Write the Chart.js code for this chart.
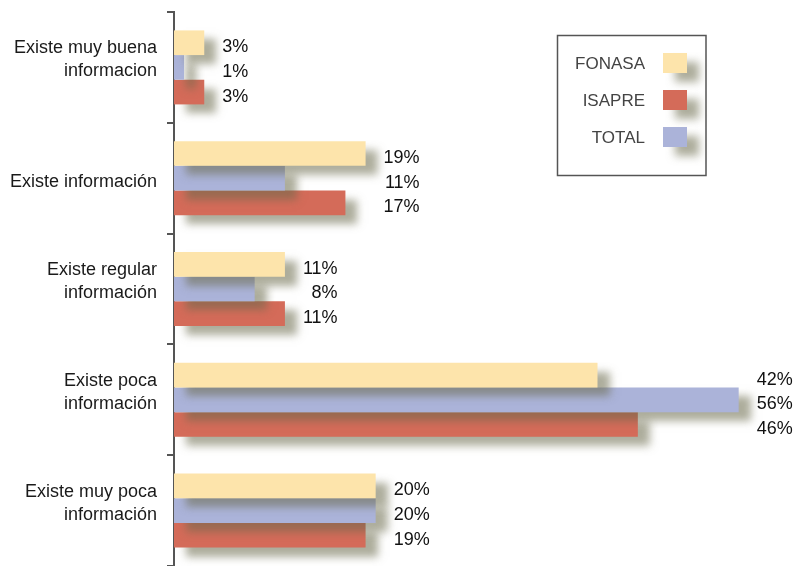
<!DOCTYPE html>
<html>
<head>
<meta charset="utf-8">
<script src="https://cdn.jsdelivr.net/npm/chart.js@4"></script>
<style>
  html,body{margin:0;padding:0;background:#fff;}
  #wrap{width:796px;height:566px;position:relative;}
</style>
</head>
<body>
<div id="wrap"><canvas id="chart" width="796" height="566"></canvas></div>
<script>
// ===== Datos =====
const categories = [
  ['Existe muy buena', 'informacion'],
  ['Existe información'],
  ['Existe regular', 'información'],
  ['Existe poca', 'información'],
  ['Existe muy poca', 'información']
];
const fonasa = [3, 19, 11, 42, 20];
const total  = [1, 11, 8, 56, 20];
const isapre = [3, 17, 11, 46, 19];
const legendOrder = ['FONASA', 'ISAPRE', 'TOTAL'];

const colors = {FONASA:'#FDE4AB', TOTAL:'#ABB3D9', ISAPRE:'#D46B59'};
const FONT = '"Liberation Sans", Arial, Helvetica, sans-serif';

function setShadow(ctx){
  ctx.shadowColor = 'rgba(105,105,75,0.55)';
  ctx.shadowBlur = 8;
  ctx.shadowOffsetX = 12;
  ctx.shadowOffsetY = 9;
}

// sombra de las barras
const shadowPlugin = {
  id:'barShadow',
  beforeDatasetDraw(chart){ chart.ctx.save(); setShadow(chart.ctx); },
  afterDatasetDraw(chart){ chart.ctx.restore(); }
};

// etiquetas de valor, alineadas a la derecha por grupo
const valueLabels = {
  id:'valueLabels',
  afterDatasetsDraw(chart){
    const ctx = chart.ctx;
    const sets = chart.data.datasets;
    ctx.save();
    ctx.font = '18px ' + FONT;
    ctx.fillStyle = '#111';
    ctx.textAlign = 'right';
    ctx.textBaseline = 'middle';
    categories.forEach((_, i)=>{
      const bars = sets.map((d,k)=> chart.getDatasetMeta(k).data[i]);
      const maxX = Math.max(...bars.map(b=>b.x));
      const texts = sets.map(d=> d.data[i] + '%');
      const widest = Math.max(...texts.map(t=>ctx.measureText(t).width));
      const xr = maxX + 18 + widest;
      bars.forEach((b,k)=> ctx.fillText(texts[k], xr, b.y + 4.5));
    });
    ctx.restore();
  }
};

// etiquetas de categoría (la última línea queda junto al centro)
const catLabels = {
  id:'catLabels',
  afterDraw(chart){
    const ctx = chart.ctx, y = chart.scales.y;
    ctx.save();
    ctx.font = '18px ' + FONT;
    ctx.fillStyle = '#1a1a1a';
    ctx.textAlign = 'right';
    ctx.textBaseline = 'middle';
    chart.data.labels.forEach((lines, i)=>{
      const yc = y.getPixelForValue(i) + 4;
      lines.forEach((ln, j)=> ctx.fillText(ln, 157, yc - (lines.length - 1 - j) * 23));
    });
    ctx.restore();
  }
};

// leyenda en recuadro
const boxLegend = {
  id:'boxLegend',
  afterDraw(chart){
    const ctx = chart.ctx;
    ctx.save();
    ctx.strokeStyle = '#555';
    ctx.lineWidth = 1.5;
    ctx.strokeRect(557.5, 35.5, 148.5, 140);
    ctx.font = '17px ' + FONT;
    ctx.textAlign = 'right';
    ctx.textBaseline = 'middle';
    legendOrder.forEach((name, k)=>{
      const cy = 63 + k * 37;
      ctx.fillStyle = '#444';
      ctx.fillText(name, 645, cy + 1.5);
      ctx.save();
      setShadow(ctx);
      ctx.fillStyle = colors[name];
      ctx.fillRect(663, cy - 10, 24, 20);
      ctx.restore();
    });
    ctx.restore();
  }
};

const ds = (label, data)=>({
  label, data, backgroundColor: colors[label], borderWidth:0,
  barPercentage:1, categoryPercentage:0.668, clip:false
});

new Chart(document.getElementById('chart').getContext('2d'), {
  type:'bar',
  data:{
    labels: categories,
    datasets:[ ds('FONASA', fonasa), ds('TOTAL', total), ds('ISAPRE', isapre) ]
  },
  options:{
    indexAxis:'y',
    responsive:false,
    animation:false,
    layout:{padding:{top:12, right:17, bottom:0, left:0}},
    plugins:{legend:{display:false}, tooltip:{enabled:false}},
    scales:{
      x:{display:false, min:0, max:60},
      y:{
        afterFit(s){ s.width = 174; },
        border:{color:'#555', width:2},
        grid:{drawOnChartArea:false, drawTicks:true, tickLength:7, color:'#555', lineWidth:2, offset:true},
        ticks:{display:false}
      }
    }
  },
  plugins:[shadowPlugin, valueLabels, catLabels, boxLegend]
});
</script>
</body>
</html>
